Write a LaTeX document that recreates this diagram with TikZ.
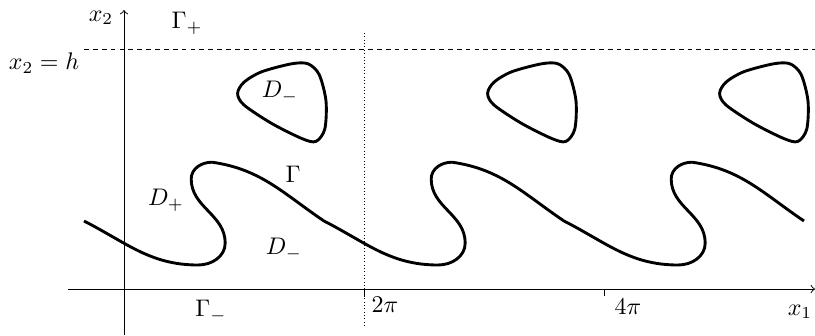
\documentclass[tikz,border=0pt]{standalone}
\usepackage{amsmath}
\usepackage{amssymb}
\usepackage{tikz}
\usetikzlibrary{positioning,calc}
\tikzstyle{curve} = [very thick, line join=round]
\tikzstyle{axis} = [->]
\tikzstyle{level} = [dash pattern=on 2pt off 1.7pt]
\tikzstyle{period} = [densely dotted]

\begin{document}
\begin{tikzpicture}[x=0.586cm, y=0.586cm]
    \useasboundingbox (-3.1,-1.15) rectangle (17.275,7.225);
    % axes
    \coordinate (xbeg) at (-1.4,0);
    \coordinate (xend) at (17.275,0);
    \coordinate (ybeg) at (0,-1.15);
    \coordinate (yend) at (0,6.975);
    \draw[axis] (xbeg) -- (xend);
    \draw[axis] (ybeg) -- (yend);
    \draw[level] (-1,6) -- (17.275,6);
    \draw[period] (6,6.4) -- (6,-0.93);
    \draw (6,0) -- (6,-0.2);
    \draw (12,0) -- (12,-0.18);
    % interface Gamma
    \draw[curve] (-1,1.7)
        \foreach \s in {0,6,12} {
            to[out=-27,in=180] (\s+1.85,0.6)
            to[out=0,in=-90] (\s+2.53,1.15)
            to[out=90,in=-90] (\s+1.68,2.75)
            to[out=90,in=180] (\s+2.2,3.17)
            to[out=-8,in=146] (\s+5,1.7)
        };
    % inclusions
    \foreach \s in {0,6.25,12.05}
        \draw[curve, shift={(\s,0)}] plot[smooth cycle] coordinates
            {(2.84,4.89) (3.0,5.17) (3.44,5.43) (4.19,5.63) (4.6,5.63) (4.88,5.36)
             (5.05,4.7) (5.02,4.0) (4.8,3.69) (4.45,3.76) (3.69,4.14) (3.0,4.6)};
    % labels
    \node (x2) at (-0.575,6.775) {$x_2$};
    \node (gplus) at (1.575,6.65) {$\Gamma_+$};
    \node (lvl) at (-2.0,5.65) {$x_2=h$};
    \node (dm1) at (3.9,4.925) {$D_-$};
    \node (dp) at (1.05,2.225) {$D_+$};
    \node (gam) at (4.225,2.875) {$\Gamma$};
    \node (dm2) at (4.0,1.0) {$D_-$};
    \node (gminus) at (2.175,-0.55) {$\Gamma_-$};
    \node (twopi) at (6.525,-0.4) {$2\pi$};
    \node (fourpi) at (12.6,-0.45) {$4\pi$};
    \node (x1) at (16.9,-0.575) {$x_1$};
\end{tikzpicture}
\end{document}
